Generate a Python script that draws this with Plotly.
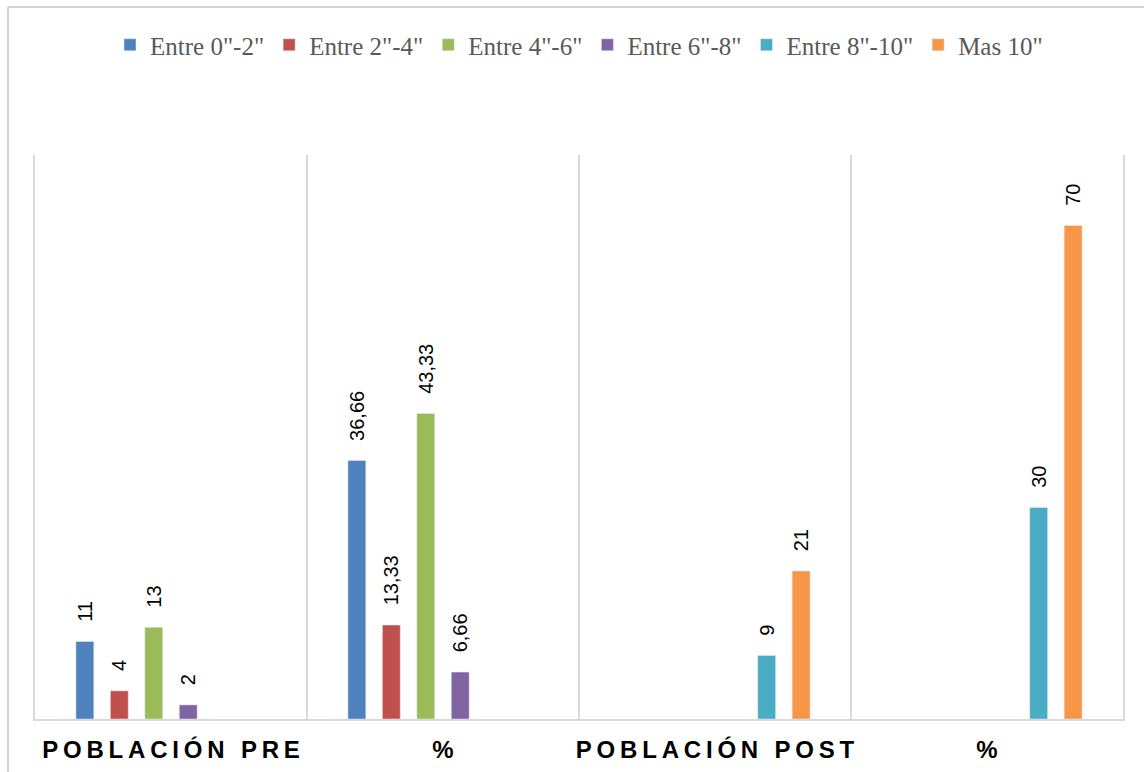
import plotly.graph_objects as go

categories = ["POBLACIÓN PRE", "%", "POBLACIÓN POST", "% "]
series_names = ['Entre 0"-2"', 'Entre 2"-4"', 'Entre 4"-6"', 'Entre 6"-8"', 'Entre 8"-10"', 'Mas 10"']
colors = ["#4f81bd", "#c0504d", "#9bbb59", "#8064a2", "#4bacc6", "#f79646"]

s_0_2 = [11, 36.66, None, None]
s_2_4 = [4, 13.33, None, None]
s_4_6 = [13, 43.33, None, None]
s_6_8 = [2, 6.66, None, None]
s_8_10 = [None, None, 9, 30]
s_10 = [None, None, 21, 70]
all_series = [s_0_2, s_2_4, s_4_6, s_6_8, s_8_10, s_10]


def fmt(v):
    if v is None:
        return ""
    if float(v).is_integer():
        s = str(int(v))
    else:
        s = f"{v:.2f}".replace(".", ",")
    return "\u00a0\u00a0\u00a0" + s


def spaced(label):
    return "<b>" + "\u2009".join(label.strip()) + "</b>"


fig = go.Figure()
for name, vals, col in zip(series_names, all_series, colors):
    fig.add_trace(go.Bar(
        name=name, x=categories, y=vals, marker_color=col,
        text=[fmt(v) for v in vals], textposition="outside", textangle=-90,
        constraintext="none",
        textfont=dict(family="Liberation Sans, Arial", size=20, color="#000000"),
        cliponaxis=False,
    ))

fig.update_layout(
    width=1144, height=772,
    margin=dict(l=35, r=21, t=155, b=53, autoexpand=False),
    paper_bgcolor="white", plot_bgcolor="white",
    barmode="group", bargap=0.24, bargroupgap=0.48,
    showlegend=True,
    legend=dict(orientation="h", x=0.5, xanchor="center", y=(719 - 45) / 564, yanchor="middle",
                font=dict(family="Liberation Serif", size=25, color="#595959"),
                traceorder="normal", itemwidth=30),
)
fig.update_xaxes(
    type="category", tickson="boundaries", showgrid=True, gridcolor="#d9d9d9", gridwidth=1.5,
    showline=True, linecolor="#d9d9d9", linewidth=1.5, ticks="",
    tickfont=dict(family="Liberation Sans, Arial", size=24, color="#000000"),
    ticktext=[spaced(c) for c in categories], tickvals=categories,
    tickangle=0, automargin=False, ticklabelstandoff=8, range=[-0.5, 3.5],
)
fig.update_yaxes(range=[0, 80], showgrid=False, showticklabels=False, zeroline=False,
                 showline=True, mirror=True, linecolor="#d9d9d9", linewidth=1.5,
                 automargin=False)

# outer chart-area border (top and left edges visible in the reference)
fig.add_shape(type="line", xref="paper", yref="paper", xsizemode="pixel", ysizemode="pixel",
              xanchor=0, yanchor=1, x0=-27, x1=1200, y0=148, y1=148,
              line=dict(color="#d4d4d4", width=2), layer="above")
fig.add_shape(type="line", xref="paper", yref="paper", xsizemode="pixel", ysizemode="pixel",
              xanchor=0, yanchor=1, x0=-27, x1=-27, y0=148, y1=-700,
              line=dict(color="#d4d4d4", width=2), layer="above")

fig.write_html("out.html")
